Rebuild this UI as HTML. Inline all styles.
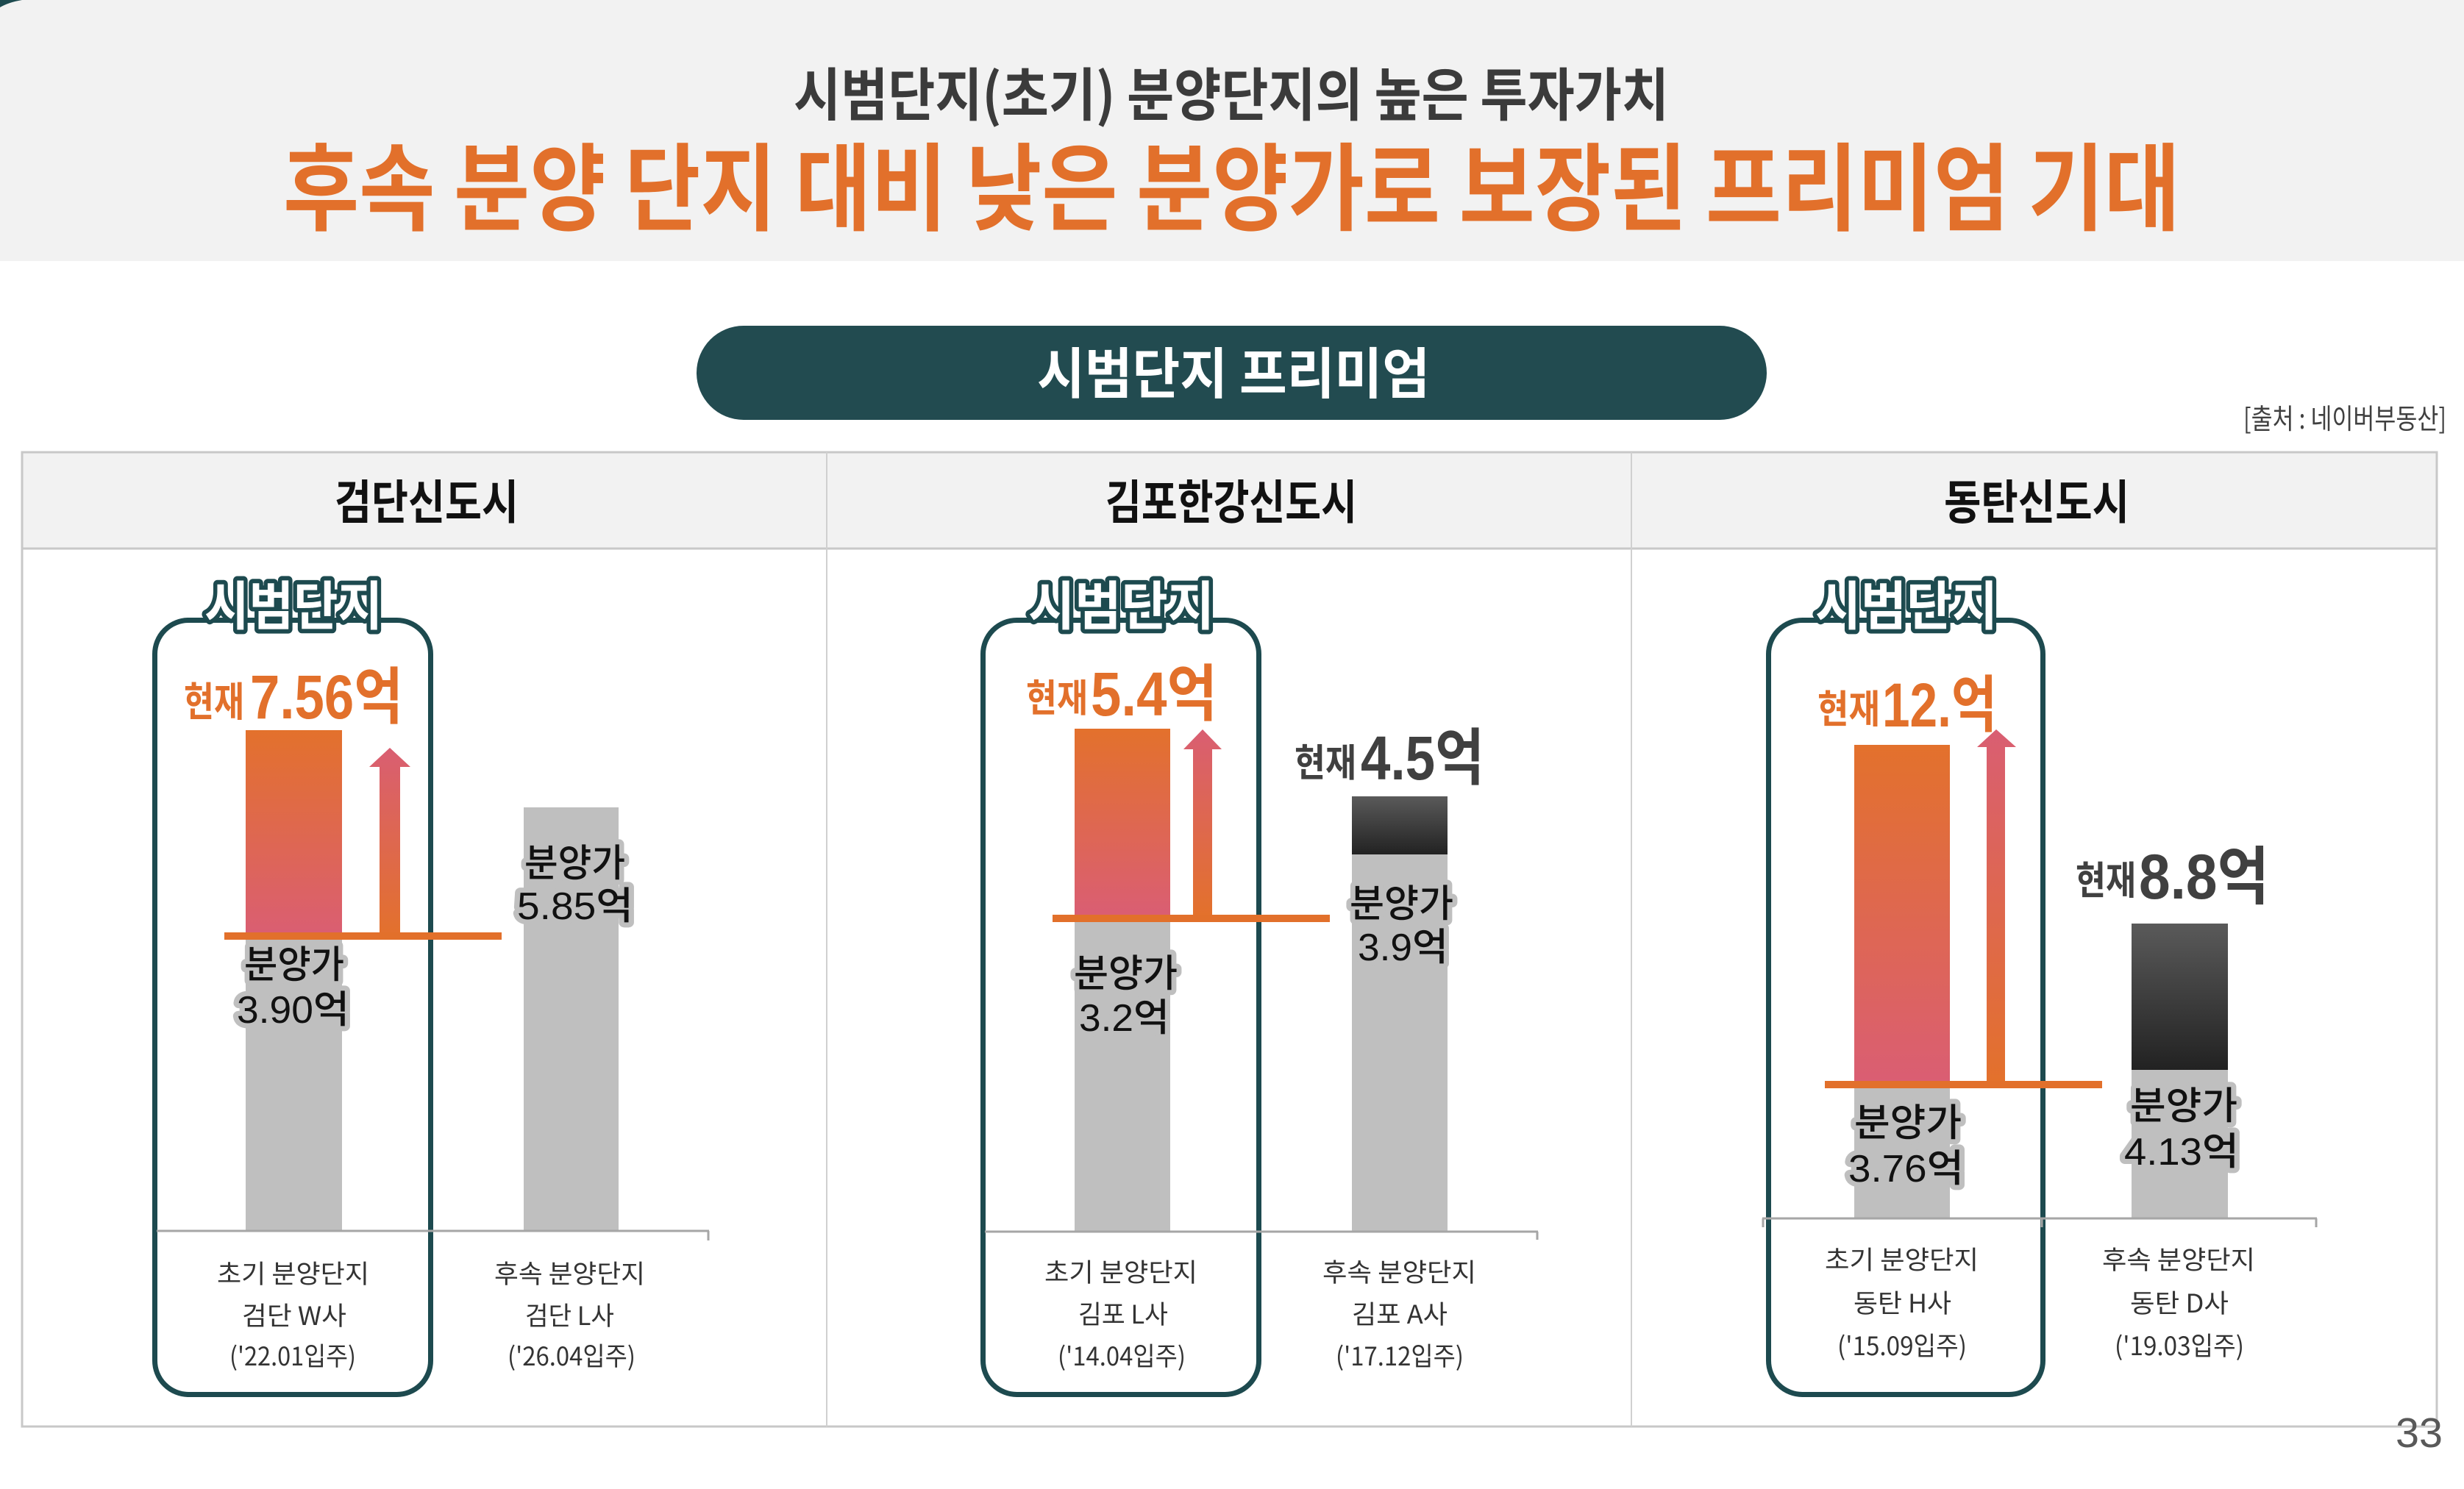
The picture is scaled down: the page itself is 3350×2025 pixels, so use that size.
<!DOCTYPE html>
<html>
<head>
<meta charset="utf-8">
<style>
  html,body{margin:0;padding:0;background:#fff;}
  body{width:3350px;height:2025px;overflow:hidden;}
  svg{display:block;}
  text{font-family:"Liberation Sans","Noto Sans CJK KR",sans-serif;}
  .k{font-family:"Noto Sans CJK KR","Liberation Sans",sans-serif;}
</style>
</head>
<body>
<svg width="3350" height="2025" viewBox="0 0 3350 2025" xmlns="http://www.w3.org/2000/svg">
  <defs>
    <linearGradient id="gBar" x1="0" y1="0" x2="0" y2="1">
      <stop offset="0" stop-color="#E3712C"/>
      <stop offset="1" stop-color="#DA5E73"/>
    </linearGradient>
    <linearGradient id="gArrow" x1="0" y1="0" x2="0" y2="1">
      <stop offset="0" stop-color="#D95E72"/>
      <stop offset="1" stop-color="#E3712C"/>
    </linearGradient>
    <linearGradient id="gDark" x1="0" y1="0" x2="0" y2="1">
      <stop offset="0" stop-color="#5A5A5A"/>
      <stop offset="1" stop-color="#222222"/>
    </linearGradient>
  </defs>

  <!-- header band -->
  <rect x="0" y="0" width="3350" height="355" fill="#F2F2F2"/>
  <path d="M0,0 L30,0 Q12,3 0,10 Z" fill="#1D4A4F"/>

  <text class="k" x="1079" y="157" font-size="78" font-weight="700" fill="#3B3B3B" textLength="1190" lengthAdjust="spacingAndGlyphs">시범단지(초기) 분양단지의 높은 투자가치</text>
  <text class="k" x="385" y="303" font-size="130" font-weight="700" fill="#E2702B" textLength="2579" lengthAdjust="spacingAndGlyphs">후속 분양 단지 대비 낮은 분양가로 보장된 프리미엄 기대</text>

  <!-- pill -->
  <rect x="947" y="443" width="1455" height="128" rx="64" ry="64" fill="#224B50"/>
  <text class="k" x="1410" y="535" font-size="75" font-weight="700" fill="#FFFFFF" textLength="534" lengthAdjust="spacingAndGlyphs">시범단지 프리미엄</text>

  <text class="k" x="3050" y="583" font-size="38" font-weight="400" fill="#404040" textLength="276" lengthAdjust="spacingAndGlyphs">[출처 : 네이버부동산]</text>

  <!-- table -->
  <rect x="30" y="615" width="3283" height="131" fill="#F2F2F2"/>
  <rect x="30" y="615" width="3283" height="1325" fill="none" stroke="#C8C8C8" stroke-width="3"/>
  <line x1="30" y1="746" x2="3313" y2="746" stroke="#C8C8C8" stroke-width="3"/>
  <line x1="1124" y1="615" x2="1124" y2="1940" stroke="#D0D0D0" stroke-width="2"/>
  <line x1="2218" y1="615" x2="2218" y2="1940" stroke="#D0D0D0" stroke-width="2"/>

  <text class="k" x="455" y="706" font-size="64" font-weight="700" fill="#111" textLength="250" lengthAdjust="spacingAndGlyphs">검단신도시</text>
  <text class="k" x="1503" y="706" font-size="64" font-weight="700" fill="#111" textLength="342" lengthAdjust="spacingAndGlyphs">김포한강신도시</text>
  <text class="k" x="2643" y="706" font-size="64" font-weight="700" fill="#111" textLength="252" lengthAdjust="spacingAndGlyphs">동탄신도시</text>

  <!-- ================= PANEL 1 ================= -->
  <rect x="210.5" y="843.5" width="375" height="1053" rx="46" ry="46" fill="none" stroke="#1D4A4F" stroke-width="7"/>
  <text class="k" x="278" y="850" font-size="72" font-weight="700" fill="#FFFFFF" stroke="#1D4A4F" stroke-width="12" stroke-linejoin="round" paint-order="stroke" textLength="242" lengthAdjust="spacingAndGlyphs">시범단지</text>

  <text class="k" x="250" y="974" font-size="55" font-weight="700" fill="#E2702B" textLength="82" lengthAdjust="spacingAndGlyphs">현재</text>
  <text x="340" y="977" font-size="84" font-weight="700" fill="#E2702B" textLength="208" lengthAdjust="spacingAndGlyphs">7.56억</text>

  <rect x="334" y="993" width="131" height="280" fill="url(#gBar)"/>
  <rect x="334" y="1273" width="131" height="401" fill="#BFBFBF"/>
  <path d="M502,1043 L530,1017 L558,1043 L544,1043 L544,1273 L516,1273 L516,1043 Z" fill="url(#gArrow)"/>
  <rect x="305" y="1268" width="377" height="10" fill="#E2702B"/>

  <rect x="712" y="1098" width="129" height="576" fill="#BFBFBF"/>

  <g font-size="52" font-weight="500" fill="#111" stroke="#BFBFBF" stroke-width="14" stroke-linejoin="round" paint-order="stroke">
    <text class="k" x="332" y="1330" textLength="136" lengthAdjust="spacingAndGlyphs">분양가</text>
    <text x="322" y="1391" textLength="153" lengthAdjust="spacingAndGlyphs">3.90억</text>
    <text class="k" x="713" y="1192" textLength="137" lengthAdjust="spacingAndGlyphs">분양가</text>
    <text x="703" y="1250" textLength="158" lengthAdjust="spacingAndGlyphs">5.85억</text>
  </g>

  <line x1="213" y1="1674" x2="964" y2="1674" stroke="#A6A6A6" stroke-width="3"/>
  <line x1="963" y1="1674" x2="963" y2="1687" stroke="#A6A6A6" stroke-width="3"/>

  <g font-size="35" font-weight="400" fill="#333">
    <text class="k" x="295" y="1745" textLength="207" lengthAdjust="spacingAndGlyphs">초기 분양단지</text>
    <text class="k" x="329" y="1802" textLength="142" lengthAdjust="spacingAndGlyphs">검단 W사</text>
    <text class="k" x="312" y="1857" textLength="172" lengthAdjust="spacingAndGlyphs">('22.01입주)</text>
    <text class="k" x="672" y="1745" textLength="205" lengthAdjust="spacingAndGlyphs">후속 분양단지</text>
    <text class="k" x="714" y="1802" textLength="121" lengthAdjust="spacingAndGlyphs">검단 L사</text>
    <text class="k" x="690" y="1857" textLength="174" lengthAdjust="spacingAndGlyphs">('26.04입주)</text>
  </g>

  <!-- ================= PANEL 2 ================= -->
  <rect x="1336.5" y="843.5" width="375" height="1053" rx="46" ry="46" fill="none" stroke="#1D4A4F" stroke-width="7"/>
  <text class="k" x="1398" y="850" font-size="72" font-weight="700" fill="#FFFFFF" stroke="#1D4A4F" stroke-width="12" stroke-linejoin="round" paint-order="stroke" textLength="253" lengthAdjust="spacingAndGlyphs">시범단지</text>

  <text class="k" x="1395" y="968" font-size="52" font-weight="700" fill="#E2702B" textLength="84" lengthAdjust="spacingAndGlyphs">현재</text>
  <text x="1483" y="973" font-size="84" font-weight="700" fill="#E2702B" textLength="172" lengthAdjust="spacingAndGlyphs">5.4억</text>

  <rect x="1461" y="991" width="130" height="253" fill="url(#gBar)"/>
  <rect x="1461" y="1244" width="130" height="431" fill="#BFBFBF"/>
  <path d="M1609,1019 L1635,992 L1661,1019 L1648,1019 L1648,1244 L1622,1244 L1622,1019 Z" fill="url(#gArrow)"/>
  <rect x="1431" y="1244" width="377" height="10" fill="#E2702B"/>

  <text class="k" x="1760" y="1056" font-size="52" font-weight="700" fill="#404040" textLength="84" lengthAdjust="spacingAndGlyphs">현재</text>
  <text x="1850" y="1060" font-size="84" font-weight="700" fill="#404040" textLength="168" lengthAdjust="spacingAndGlyphs">4.5억</text>
  <rect x="1838" y="1083" width="130" height="79" fill="url(#gDark)"/>
  <rect x="1838" y="1162" width="130" height="513" fill="#BFBFBF"/>

  <g font-size="52" font-weight="500" fill="#111" stroke="#BFBFBF" stroke-width="14" stroke-linejoin="round" paint-order="stroke">
    <text class="k" x="1460" y="1342" textLength="141" lengthAdjust="spacingAndGlyphs">분양가</text>
    <text x="1467" y="1402" textLength="123" lengthAdjust="spacingAndGlyphs">3.2억</text>
    <text class="k" x="1835" y="1247" textLength="141" lengthAdjust="spacingAndGlyphs">분양가</text>
    <text x="1846" y="1306" textLength="123" lengthAdjust="spacingAndGlyphs">3.9억</text>
  </g>

  <line x1="1339" y1="1675" x2="2091" y2="1675" stroke="#A6A6A6" stroke-width="3"/>
  <line x1="2090" y1="1675" x2="2090" y2="1686" stroke="#A6A6A6" stroke-width="3"/>

  <g font-size="35" font-weight="400" fill="#333">
    <text class="k" x="1420" y="1743" textLength="208" lengthAdjust="spacingAndGlyphs">초기 분양단지</text>
    <text class="k" x="1466" y="1800" textLength="122" lengthAdjust="spacingAndGlyphs">김포 L사</text>
    <text class="k" x="1438" y="1857" textLength="174" lengthAdjust="spacingAndGlyphs">('14.04입주)</text>
    <text class="k" x="1798" y="1743" textLength="209" lengthAdjust="spacingAndGlyphs">후속 분양단지</text>
    <text class="k" x="1838" y="1800" textLength="130" lengthAdjust="spacingAndGlyphs">김포 A사</text>
    <text class="k" x="1816" y="1857" textLength="174" lengthAdjust="spacingAndGlyphs">('17.12입주)</text>
  </g>

  <!-- ================= PANEL 3 ================= -->
  <rect x="2404.5" y="843.5" width="373" height="1053" rx="46" ry="46" fill="none" stroke="#1D4A4F" stroke-width="7"/>
  <text class="k" x="2468" y="850" font-size="72" font-weight="700" fill="#FFFFFF" stroke="#1D4A4F" stroke-width="12" stroke-linejoin="round" paint-order="stroke" textLength="248" lengthAdjust="spacingAndGlyphs">시범단지</text>

  <text class="k" x="2471" y="983" font-size="53" font-weight="700" fill="#E2702B" textLength="85" lengthAdjust="spacingAndGlyphs">현재</text>
  <text x="2559" y="988" font-size="84" font-weight="700" fill="#E2702B" textLength="156" lengthAdjust="spacingAndGlyphs">12.억</text>

  <rect x="2521" y="1013" width="130" height="457" fill="url(#gBar)"/>
  <rect x="2521" y="1470" width="130" height="187" fill="#BFBFBF"/>
  <path d="M2688,1016 L2714,992 L2741,1016 L2726,1016 L2726,1470 L2701,1470 L2701,1016 Z" fill="url(#gArrow)"/>
  <rect x="2481" y="1470" width="377" height="10" fill="#E2702B"/>

  <text class="k" x="2822" y="1216" font-size="53" font-weight="700" fill="#404040" textLength="82" lengthAdjust="spacingAndGlyphs">현재</text>
  <text x="2908" y="1222" font-size="86" font-weight="700" fill="#404040" textLength="177" lengthAdjust="spacingAndGlyphs">8.8억</text>
  <rect x="2898" y="1256" width="131" height="199" fill="url(#gDark)"/>
  <rect x="2898" y="1455" width="131" height="202" fill="#BFBFBF"/>

  <g font-size="52" font-weight="500" fill="#111" stroke="#BFBFBF" stroke-width="14" stroke-linejoin="round" paint-order="stroke">
    <text class="k" x="2521" y="1545" textLength="146" lengthAdjust="spacingAndGlyphs">분양가</text>
    <text x="2513" y="1607" textLength="157" lengthAdjust="spacingAndGlyphs">3.76억</text>
    <text class="k" x="2896" y="1522" textLength="146" lengthAdjust="spacingAndGlyphs">분양가</text>
    <text x="2888" y="1584" textLength="156" lengthAdjust="spacingAndGlyphs">4.13억</text>
  </g>

  <line x1="2396" y1="1657" x2="3150" y2="1657" stroke="#A6A6A6" stroke-width="3"/>
  <line x1="2397" y1="1657" x2="2397" y2="1669" stroke="#A6A6A6" stroke-width="3"/>
  <line x1="2776" y1="1657" x2="2776" y2="1669" stroke="#A6A6A6" stroke-width="3"/>
  <line x1="3149" y1="1657" x2="3149" y2="1669" stroke="#A6A6A6" stroke-width="3"/>

  <g font-size="35" font-weight="400" fill="#333">
    <text class="k" x="2481" y="1726" textLength="209" lengthAdjust="spacingAndGlyphs">초기 분양단지</text>
    <text class="k" x="2520" y="1785" textLength="133" lengthAdjust="spacingAndGlyphs">동탄 H사</text>
    <text class="k" x="2498" y="1843" textLength="176" lengthAdjust="spacingAndGlyphs">('15.09입주)</text>
    <text class="k" x="2858" y="1726" textLength="208" lengthAdjust="spacingAndGlyphs">후속 분양단지</text>
    <text class="k" x="2896" y="1785" textLength="134" lengthAdjust="spacingAndGlyphs">동탄 D사</text>
    <text class="k" x="2875" y="1843" textLength="176" lengthAdjust="spacingAndGlyphs">('19.03입주)</text>
  </g>

  <!-- page number -->
  <text x="3257" y="1968" font-size="57" font-weight="400" fill="#595959" textLength="64" lengthAdjust="spacingAndGlyphs">33</text>
</svg>
</body>
</html>
